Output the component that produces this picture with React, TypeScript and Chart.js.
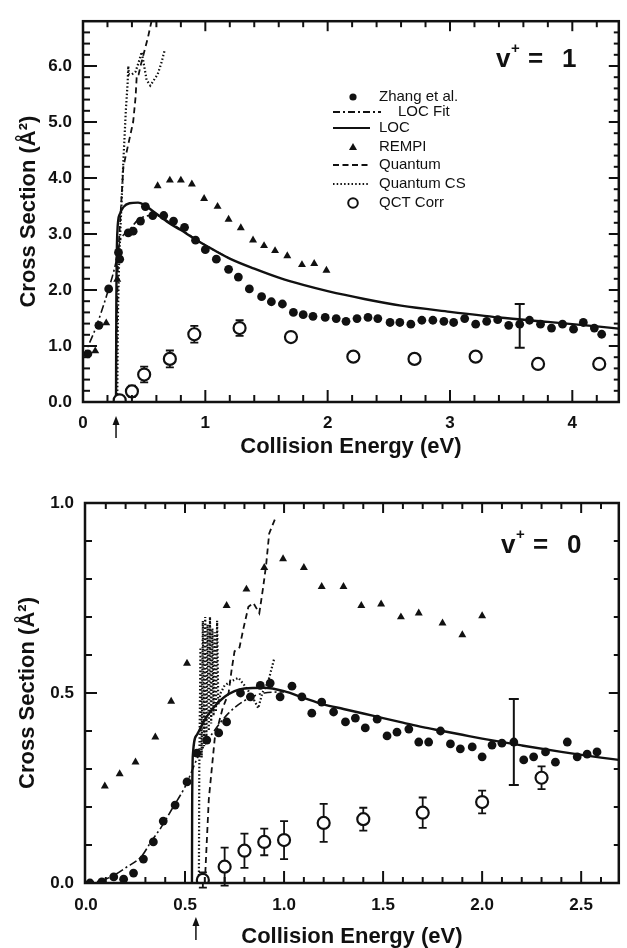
import React, { useEffect, useRef } from 'react';
import { Chart, registerables } from 'chart.js';

Chart.register(...registerables);

const INK = '#111111';
const FONT = 'Arial, "Liberation Sans", Helvetica, sans-serif';

// ================= Panel 1 : v+ = 1 =================
const topZhangE = [0.04, 0.13, 0.21, 0.29, 0.30, 0.37, 0.41, 0.47, 0.51, 0.57, 0.66, 0.74, 0.83, 0.92, 1.00, 1.09, 1.19, 1.27, 1.36, 1.46, 1.54, 1.63, 1.72, 1.80, 1.88, 1.98, 2.07, 2.15, 2.24, 2.33, 2.41, 2.51, 2.59, 2.68, 2.77, 2.86, 2.95, 3.03, 3.12, 3.21, 3.30, 3.39, 3.48, 3.57, 3.65, 3.74, 3.83, 3.92, 4.01, 4.09, 4.18, 4.24];
const topZhangS = [0.86, 1.37, 2.02, 2.67, 2.55, 3.02, 3.05, 3.23, 3.49, 3.33, 3.33, 3.23, 3.12, 2.89, 2.72, 2.55, 2.37, 2.23, 2.02, 1.88, 1.79, 1.75, 1.60, 1.56, 1.53, 1.51, 1.49, 1.44, 1.49, 1.51, 1.49, 1.42, 1.42, 1.39, 1.46, 1.46, 1.44, 1.42, 1.49, 1.39, 1.44, 1.47, 1.37, 1.39, 1.46, 1.39, 1.32, 1.39, 1.30, 1.42, 1.32, 1.21];
const topZhangBarE = [3.57];
const topZhangBarS = [1.36];
const topZhangBarErr = [0.39];

const topRempiE = [0.10, 0.19, 0.28, 0.61, 0.71, 0.80, 0.89, 0.99, 1.10, 1.19, 1.29, 1.39, 1.48, 1.57, 1.67, 1.79, 1.89, 1.99];
const topRempiS = [0.91, 1.41, 2.19, 3.86, 3.96, 3.96, 3.89, 3.63, 3.49, 3.26, 3.11, 2.89, 2.79, 2.70, 2.61, 2.45, 2.47, 2.35];

const topQctE = [0.30, 0.40, 0.50, 0.71, 0.91, 1.28, 1.70, 2.21, 2.71, 3.21, 3.72, 4.22];
const topQctS = [0.03, 0.19, 0.49, 0.77, 1.21, 1.32, 1.16, 0.81, 0.77, 0.81, 0.68, 0.68];
const topQctErr = [0, 0.10, 0.14, 0.15, 0.15, 0.14, 0, 0, 0, 0, 0, 0];

const topLocE = [0.27, 0.272, 0.28, 0.30, 0.33, 0.38, 0.45, 0.50, 0.60, 0.70, 0.80, 0.90, 1.00, 1.20, 1.40, 1.60, 1.80, 2.00, 2.30, 2.60, 3.00, 3.40, 3.80, 4.20, 4.38];
const topLocS = [0.0, 1.5, 3.0, 3.35, 3.48, 3.55, 3.56, 3.52, 3.36, 3.20, 3.07, 2.93, 2.80, 2.56, 2.38, 2.22, 2.09, 1.98, 1.84, 1.72, 1.61, 1.51, 1.43, 1.35, 1.31];

const topFitE = [0.0, 0.10, 0.20, 0.27, 0.30, 0.33, 0.37, 0.45, 0.55, 0.62, 0.70, 0.80, 0.90, 1.00, 1.20];
const topFitS = [0.80, 1.30, 1.95, 2.50, 2.85, 2.98, 3.05, 3.25, 3.33, 3.32, 3.22, 3.08, 2.94, 2.80, 2.56];

const topQuantE = [0.27, 0.275, 0.285, 0.30, 0.33, 0.37, 0.41, 0.43, 0.44, 0.455, 0.47, 0.50, 0.53, 0.56];
const topQuantS = [0.0, 1.0, 2.5, 3.1, 4.2, 4.6, 5.0, 5.45, 5.85, 5.85, 6.0, 6.25, 6.5, 6.8];

const topCsE = [0.28, 0.285, 0.295, 0.31, 0.33, 0.35, 0.365, 0.37, 0.375, 0.40, 0.43, 0.46, 0.48, 0.50, 0.52, 0.55, 0.58, 0.61, 0.64, 0.67];
const topCsS = [0.0, 1.5, 2.5, 3.3, 4.3, 5.2, 5.7, 6.0, 5.85, 5.85, 5.9, 6.1, 6.25, 6.0, 5.75, 5.65, 5.75, 5.85, 6.05, 6.3];

const topThreshold = 0.27;

// ================= Panel 2 : v+ = 0 =================
const botZhangE = [0.02, 0.08, 0.14, 0.19, 0.24, 0.29, 0.34, 0.39, 0.45, 0.51, 0.56, 0.61, 0.67, 0.71, 0.78, 0.83, 0.88, 0.93, 0.98, 1.04, 1.09, 1.14, 1.19, 1.25, 1.31, 1.36, 1.41, 1.47, 1.52, 1.57, 1.63, 1.68, 1.73, 1.79, 1.84, 1.89, 1.95, 2.00, 2.05, 2.10, 2.16, 2.21, 2.26, 2.32, 2.37, 2.43, 2.48, 2.53, 2.58];
const botZhangS = [0.0, 0.003, 0.016, 0.01, 0.026, 0.063, 0.108, 0.163, 0.205, 0.266, 0.342, 0.376, 0.395, 0.424, 0.50, 0.49, 0.52, 0.526, 0.49, 0.518, 0.49, 0.447, 0.476, 0.45, 0.424, 0.434, 0.408, 0.431, 0.387, 0.397, 0.405, 0.371, 0.371, 0.40, 0.366, 0.353, 0.358, 0.332, 0.363, 0.368, 0.371, 0.324, 0.332, 0.345, 0.318, 0.371, 0.332, 0.339, 0.345];
const botZhangBarE = [2.16];
const botZhangBarS = [0.371];
const botZhangBarErr = [0.113];

const botRempiE = [0.095, 0.17, 0.25, 0.35, 0.43, 0.51, 0.71, 0.81, 0.90, 0.995, 1.10, 1.19, 1.30, 1.39, 1.49, 1.59, 1.68, 1.80, 1.90, 2.00];
const botRempiS = [0.255, 0.287, 0.318, 0.384, 0.478, 0.578, 0.73, 0.773, 0.83, 0.853, 0.83, 0.78, 0.78, 0.73, 0.734, 0.70, 0.71, 0.684, 0.653, 0.703];

const botQctE = [0.59, 0.70, 0.80, 0.90, 1.00, 1.20, 1.40, 1.70, 2.00, 2.30];
const botQctS = [0.008, 0.043, 0.085, 0.108, 0.113, 0.158, 0.168, 0.185, 0.213, 0.277];
const botQctErr = [0.02, 0.05, 0.045, 0.035, 0.05, 0.05, 0.03, 0.04, 0.03, 0.03];

const botLocE = [0.535, 0.536, 0.54, 0.56, 0.60, 0.65, 0.70, 0.75, 0.80, 0.90, 1.00, 1.10, 1.20, 1.30, 1.40, 1.50, 1.60, 1.70, 1.80, 1.90, 2.00, 2.20, 2.40, 2.60, 2.69];
const botLocS = [0.0, 0.20, 0.34, 0.39, 0.43, 0.465, 0.49, 0.505, 0.512, 0.514, 0.505, 0.487, 0.47, 0.458, 0.446, 0.434, 0.422, 0.41, 0.40, 0.39, 0.38, 0.362, 0.345, 0.33, 0.324];

const botFitE = [0.0, 0.07, 0.14, 0.20, 0.28, 0.33, 0.38, 0.44, 0.50, 0.57, 0.64, 0.72, 0.80, 0.90, 1.00];
const botFitS = [0.0, 0.005, 0.02, 0.04, 0.07, 0.11, 0.147, 0.20, 0.253, 0.337, 0.395, 0.447, 0.48, 0.50, 0.503];

const botQuantE = [0.60, 0.62, 0.65, 0.69, 0.72, 0.735, 0.75, 0.775, 0.795, 0.82, 0.845, 0.875, 0.895, 0.91, 0.925, 0.96];
const botQuantS = [0.0, 0.22, 0.38, 0.46, 0.50, 0.56, 0.61, 0.62, 0.67, 0.727, 0.737, 0.71, 0.78, 0.84, 0.92, 0.965];

const botCsE = [0.57, 0.572, 0.578, 0.584, 0.59, 0.596, 0.602, 0.608, 0.614, 0.62, 0.626, 0.632, 0.638, 0.644, 0.65, 0.656, 0.662, 0.668, 0.68, 0.70, 0.73, 0.77, 0.80, 0.84, 0.87, 0.89, 0.92, 0.95];
const botCsS = [0.0, 0.30, 0.62, 0.33, 0.69, 0.36, 0.70, 0.38, 0.68, 0.40, 0.70, 0.42, 0.67, 0.44, 0.66, 0.45, 0.69, 0.47, 0.50, 0.52, 0.53, 0.54, 0.52, 0.49, 0.46, 0.50, 0.53, 0.59];

const botThreshold = 0.555;

// ================= Text =================
const xTitle = 'Collision Energy (eV)';
const yTitle = 'Cross Section (Å²)';
const legendLabels = ['Zhang et al.', 'LOC Fit', 'LOC', 'REMPI', 'Quantum', 'Quantum CS', 'QCT Corr'];

const pts = (xs: number[], ys: number[]) => xs.map((x, i) => ({ x, y: ys[i] }));

function drawErrorBars(chart: any) {
  const { ctx } = chart;
  const xs = chart.scales.x;
  const ys = chart.scales.y;
  chart.data.datasets.forEach((ds: any) => {
    if (!ds.errorBars) return;
    const cap = ds.errorCap || 4;
    ds.data.forEach((p: any, i: number) => {
      const e = ds.errorBars[i];
      if (!e) return;
      const px = xs.getPixelForValue(p.x);
      const y1 = ys.getPixelForValue(p.y + e);
      const y2 = ys.getPixelForValue(p.y - e);
      ctx.save();
      ctx.strokeStyle = INK;
      ctx.lineWidth = ds.errorWidth || 2;
      ctx.beginPath();
      ctx.moveTo(px, y1); ctx.lineTo(px, y2);
      ctx.moveTo(px - cap, y1); ctx.lineTo(px + cap, y1);
      ctx.moveTo(px - cap, y2); ctx.lineTo(px + cap, y2);
      ctx.stroke();
      ctx.restore();
    });
  });
}

function drawFrame(chart: any, c: any) {
  const { ctx, chartArea: a } = chart;
  const xs = chart.scales.x;
  const ys = chart.scales.y;
  ctx.save();
  ctx.strokeStyle = INK;
  ctx.lineWidth = 2;
  const seg = (x1: number, y1: number, x2: number, y2: number) => {
    ctx.beginPath(); ctx.moveTo(x1, y1); ctx.lineTo(x2, y2); ctx.stroke();
  };
  const isMajor = (v: number, m: number) => Math.abs(v / m - Math.round(v / m)) < 1e-6;
  for (let k = Math.ceil(xs.min / c.xMinor - 1e-9); k * c.xMinor <= xs.max + 1e-9; k++) {
    const v = k * c.xMinor;
    const major = isMajor(v, c.xMajor);
    const px = xs.getPixelForValue(v);
    if (px < a.left + 2 || px > a.right - 2) continue;
    seg(px, a.bottom, px, a.bottom - (major ? c.tb[0] : c.tb[1]));
    seg(px, a.top, px, a.top + (major ? c.tt[0] : c.tt[1]));
  }
  for (let k = Math.ceil(ys.min / c.yMinor - 1e-9); k * c.yMinor <= ys.max + 1e-9; k++) {
    const v = k * c.yMinor;
    const major = isMajor(v, c.yMajor);
    const py = ys.getPixelForValue(v);
    if (py < a.top + 2 || py > a.bottom - 2) continue;
    seg(a.left, py, a.left + (major ? c.tl[0] : c.tl[1]), py);
    seg(a.right, py, a.right - (major ? c.tr[0] : c.tr[1]), py);
  }
  ctx.lineWidth = 2.5;
  ctx.strokeRect(a.left, a.top, a.right - a.left, a.bottom - a.top);

  // threshold arrow
  const ax = xs.getPixelForValue(c.arrowAt);
  ctx.lineWidth = 1.5;
  seg(ax, c.arrowY1 + 6, ax, c.arrowY2);
  ctx.fillStyle = INK;
  ctx.beginPath();
  ctx.moveTo(ax, c.arrowY1);
  ctx.lineTo(ax - 3.5, c.arrowY1 + 9);
  ctx.lineTo(ax + 3.5, c.arrowY1 + 9);
  ctx.closePath();
  ctx.fill();

  // v+ label
  ctx.fillStyle = INK;
  ctx.textBaseline = 'alphabetic';
  ctx.textAlign = 'left';
  ctx.font = `bold 26px ${FONT}`;
  ctx.fillText('v', c.vx, c.vBase);
  ctx.fillText('=', c.vx + 32, c.vBase);
  ctx.fillText(c.vNum, c.vx + 66, c.vBase);
  ctx.font = `bold 15px ${FONT}`;
  ctx.fillText('+', c.vx + 15, c.vBase - 14);

  if (c.legend) drawLegend(ctx);
  ctx.restore();
}

function drawLegend(ctx: CanvasRenderingContext2D) {
  const rows = [97, 112, 128, 147, 165, 184, 203];
  const sx = 353;
  ctx.save();
  ctx.fillStyle = INK;
  ctx.strokeStyle = INK;
  // Zhang dot
  ctx.beginPath(); ctx.arc(sx, rows[0], 3.6, 0, Math.PI * 2); ctx.fill();
  // LOC Fit dash-dot
  ctx.lineWidth = 1.8;
  ctx.setLineDash([7, 3, 2, 3]);
  ctx.beginPath(); ctx.moveTo(333, rows[1]); ctx.lineTo(381, rows[1]); ctx.stroke();
  // LOC solid
  ctx.setLineDash([]);
  ctx.lineWidth = 2.2;
  ctx.beginPath(); ctx.moveTo(333, rows[2]); ctx.lineTo(370, rows[2]); ctx.stroke();
  // REMPI triangle
  ctx.beginPath();
  ctx.moveTo(sx, rows[3] - 4); ctx.lineTo(sx - 4, rows[3] + 3); ctx.lineTo(sx + 4, rows[3] + 3);
  ctx.closePath(); ctx.fill();
  // Quantum dashed
  ctx.lineWidth = 1.8;
  ctx.setLineDash([6, 3.5]);
  ctx.beginPath(); ctx.moveTo(333, rows[4]); ctx.lineTo(370, rows[4]); ctx.stroke();
  // Quantum CS dotted
  ctx.lineWidth = 2;
  ctx.setLineDash([1.5, 2.2]);
  ctx.beginPath(); ctx.moveTo(333, rows[5]); ctx.lineTo(368, rows[5]); ctx.stroke();
  // QCT open circle
  ctx.setLineDash([]);
  ctx.lineWidth = 2;
  ctx.beginPath(); ctx.arc(sx, rows[6], 4.8, 0, Math.PI * 2); ctx.stroke();

  ctx.font = `15px ${FONT}`;
  ctx.textBaseline = 'middle';
  ctx.textAlign = 'left';
  legendLabels.forEach((t, i) => {
    ctx.fillText(t, i === 1 ? 398 : 379, rows[i]);
  });
  ctx.restore();
}

function makeDatasets(p: any) {
  return [
    { label: 'Zhang error', data: pts(p.zbE, p.zbS), errorBars: p.zbErr, errorCap: 5, errorWidth: 2, pointRadius: 0, showLine: false },
    { label: 'QCT Corr', data: pts(p.qE, p.qS), errorBars: p.qErr, errorCap: 4, errorWidth: 1.8, pointStyle: 'circle', pointRadius: 6, borderWidth: 2.2, backgroundColor: '#ffffff', borderColor: INK, showLine: false },
    { label: 'Zhang et al.', data: pts(p.zE, p.zS), pointStyle: 'circle', pointRadius: 4.4, backgroundColor: INK, borderColor: INK, borderWidth: 0, showLine: false },
    { label: 'REMPI', data: pts(p.rE, p.rS), pointStyle: 'triangle', pointRadius: 4.6, backgroundColor: INK, borderColor: INK, borderWidth: 0, showLine: false },
    { label: 'LOC', data: pts(p.lE, p.lS), showLine: true, pointRadius: 0, borderColor: INK, borderWidth: 2.4, cubicInterpolationMode: 'monotone', fill: false },
    { label: 'LOC Fit', data: pts(p.fE, p.fS), showLine: true, pointRadius: 0, borderColor: INK, borderWidth: 1.6, borderDash: [8, 3, 2, 3], cubicInterpolationMode: 'monotone', fill: false },
    { label: 'Quantum', data: pts(p.quE, p.quS), showLine: true, pointRadius: 0, borderColor: INK, borderWidth: 1.8, borderDash: [6, 4], tension: 0, fill: false },
    { label: 'Quantum CS', data: pts(p.cE, p.cS), showLine: true, pointRadius: 0, borderColor: INK, borderWidth: 2.2, borderDash: [1.5, 2.2], tension: 0, fill: false },
  ];
}

function makeConfig(p: any): any {
  const tickFont = { family: FONT, size: 17, weight: 'bold' as const };
  const titleFont = { family: FONT, size: 22, weight: 'bold' as const, lineHeight: 1 };
  return {
    type: 'scatter',
    data: { datasets: makeDatasets(p) },
    options: {
      animation: false,
      responsive: false,
      devicePixelRatio: 1,
      events: [],
      layout: { padding: { top: p.padTop, right: 2, left: 0, bottom: 0 } },
      plugins: { legend: { display: false }, tooltip: { enabled: false } },
      scales: {
        x: {
          type: 'linear', min: p.xMin, max: p.xMax,
          afterFit: (s: any) => { s.height = p.xH; },
          grid: { display: false, drawTicks: false }, border: { display: false },
          ticks: { stepSize: p.xMajor, includeBounds: false, padding: p.xPad, color: INK, font: tickFont, maxRotation: 0, autoSkip: false, callback: p.xFmt },
          title: { display: true, text: xTitle, color: INK, font: titleFont, padding: { top: 0, bottom: p.xTitlePad } },
        },
        y: {
          type: 'linear', min: 0, max: p.yMax,
          afterFit: (s: any) => { s.width = p.yW; },
          grid: { display: false, drawTicks: false }, border: { display: false },
          ticks: { stepSize: p.yMajor, includeBounds: false, padding: 11, color: INK, font: tickFont, autoSkip: false, callback: (v: any) => Number(v).toFixed(1) },
          title: { display: true, text: yTitle, color: INK, font: titleFont, padding: { top: p.yTitlePad, bottom: 0 } },
        },
      },
    },
    plugins: [{
      id: 'decor',
      beforeDatasetsDraw: (chart: any) => drawErrorBars(chart),
      afterDraw: (chart: any) => drawFrame(chart, p.deco),
    }],
  };
}

const topPanel = {
  zE: topZhangE, zS: topZhangS, zbE: topZhangBarE, zbS: topZhangBarS, zbErr: topZhangBarErr,
  rE: topRempiE, rS: topRempiS, qE: topQctE, qS: topQctS, qErr: topQctErr,
  lE: topLocE, lS: topLocS, fE: topFitE, fS: topFitS, quE: topQuantE, quS: topQuantS, cE: topCsE, cS: topCsS,
  xMin: 0, xMax: 4.38, xMajor: 1, yMax: 6.8, yMajor: 1,
  padTop: 15, xH: 68, yW: 83, xPad: 11, xTitlePad: 12, yTitlePad: 18,
  xFmt: (v: any) => String(Math.round(Number(v))),
  deco: { xMajor: 1, xMinor: 0.2, yMajor: 1, yMinor: 0.2, tb: [12, 7], tt: [10, 6], tl: [14, 7], tr: [10, 5],
    arrowAt: topThreshold, arrowY1: 416, arrowY2: 438, vx: 496, vBase: 67, vNum: '1', legend: true },
};

const bottomPanel = {
  zE: botZhangE, zS: botZhangS, zbE: botZhangBarE, zbS: botZhangBarS, zbErr: botZhangBarErr,
  rE: botRempiE, rS: botRempiS, qE: botQctE, qS: botQctS, qErr: botQctErr,
  lE: botLocE, lS: botLocS, fE: botFitE, fS: botFitS, quE: botQuantE, quS: botQuantS, cE: botCsE, cS: botCsS,
  xMin: -0.005, xMax: 2.69, xMajor: 0.5, yMax: 1.0, yMajor: 0.5,
  padTop: 33, xH: 65, yW: 85, xPad: 12, xTitlePad: 0, yTitlePad: 17,
  xFmt: (v: any) => Number(v).toFixed(1),
  deco: { xMajor: 0.5, xMinor: 0.1, yMajor: 0.5, yMinor: 0.1, tb: [12, 6], tt: [10, 6], tl: [12, 7], tr: [10, 5],
    arrowAt: botThreshold, arrowY1: 447, arrowY2: 470, vx: 501, vBase: 83, vNum: '0', legend: false },
};

function Panel({ panel, height }: { panel: any; height: number }) {
  const ref = useRef<HTMLCanvasElement | null>(null);
  useEffect(() => {
    if (!ref.current) return;
    const chart = new Chart(ref.current, makeConfig(panel));
    return () => chart.destroy();
  }, [panel]);
  return <canvas ref={ref} width={627} height={height} style={{ display: 'block', width: 627, height }} />;
}

export default function App() {
  return (
    <div style={{ position: 'absolute', left: 0, top: 0, width: 627, height: 948, background: '#ffffff' }}>
      <Panel panel={topPanel} height={470} />
      <Panel panel={bottomPanel} height={478} />
    </div>
  );
}
